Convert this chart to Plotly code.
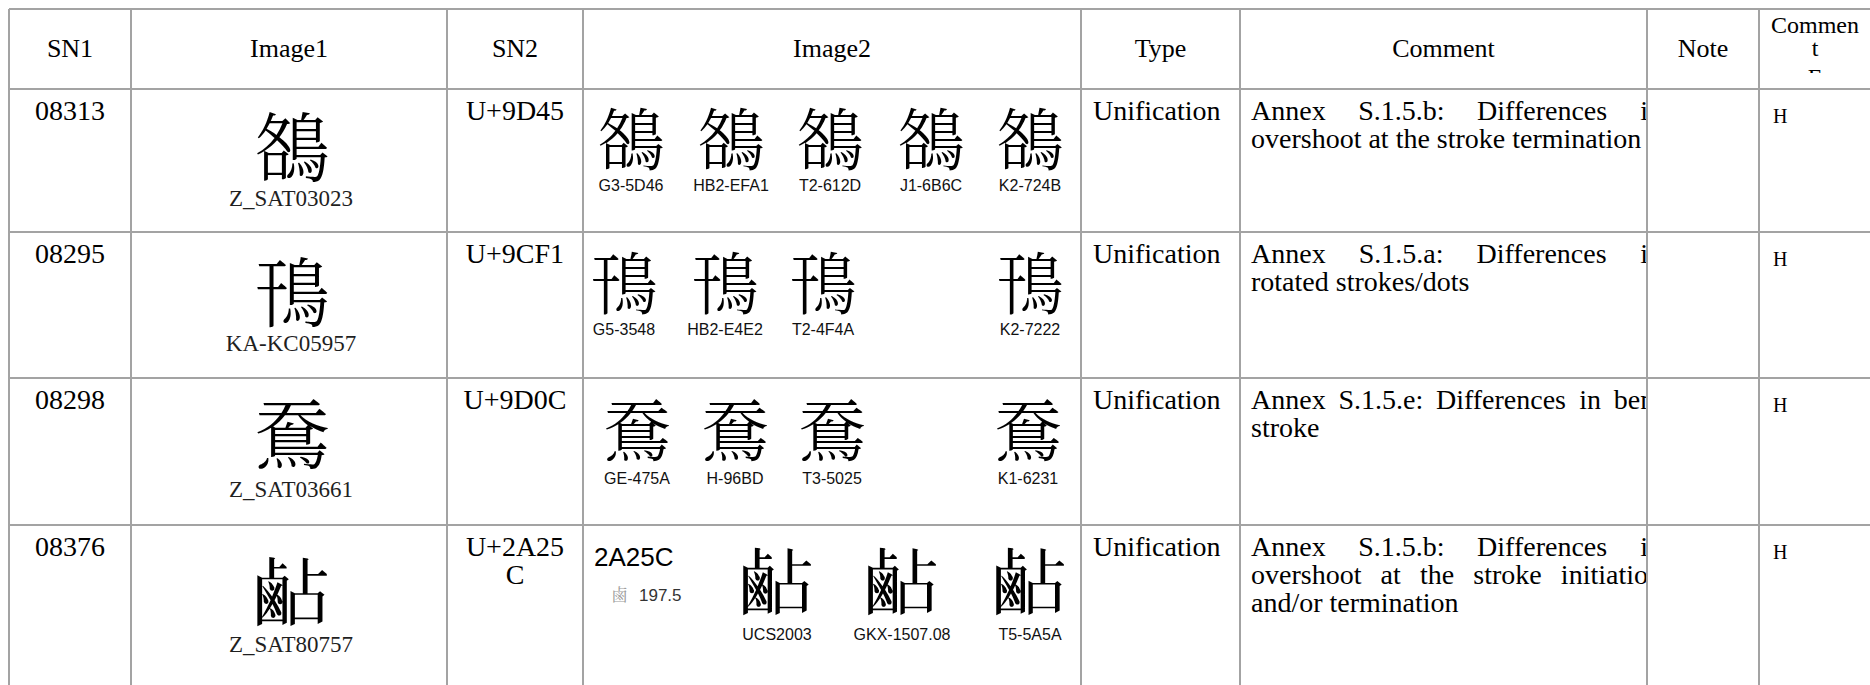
import plotly.graph_objects as go

# ---------------- data ----------------
header_labels = ["SN1", "Image1", "SN2", "Image2", "Type", "Comment", "Note"]
header_last_lines = ["Commen", "t", "E"]

sn1 = ["08313", "08295", "08298", "08376"]
sn2_lines = [["U+9D45"], ["U+9CF1"], ["U+9D0C"], ["U+2A25", "C"]]
image1_glyph = ["鵅", "鳱", "鴌", "𪉜"]
image1_source = ["Z_SAT03023", "KA-KC05957", "Z_SAT03661", "Z_SAT80757"]
image2_glyph = ["鵅", "鳱", "鴌", "𪉜"]
image2_sources = [
    ["G3-5D46", "HB2-EFA1", "T2-612D", "J1-6B6C", "K2-724B"],
    ["G5-3548", "HB2-E4E2", "T2-4F4A", "K2-7222"],
    ["GE-475A", "H-96BD", "T3-5025", "K1-6231"],
    ["UCS2003", "GKX-1507.08", "T5-5A5A"],
]
ucs_code = "2A25C"
ucs_radical = "鹵"
ucs_radical_stroke = "197.5"
types = ["Unification", "Unification", "Unification", "Unification"]
comments = [
    ["Annex S.1.5.b: Differences in", "overshoot at the stroke termination"],
    ["Annex S.1.5.a: Differences in", "rotated strokes/dots"],
    ["Annex S.1.5.e: Differences in bent", "stroke"],
    ["Annex S.1.5.b: Differences in", "overshoot at the stroke initiation", "and/or termination"],
]
notes = ["", "", "", ""]
comment_e = ["H", "H", "H", "H"]

# ---------------- layout (positions / styles) ----------------
W, H = 1870, 685
col_edges = [9, 131, 447, 583, 1081, 1240, 1647, 1759, 1867]
row_edges = [9, 89, 232, 378, 525, 720]
image2_x = [[631, 731, 830, 931, 1030], [624, 725, 823, 1030],
            [637, 735, 832, 1028], [777, 902, 1030]]
img1_glyph_dy = [58, 60, 56, 67]
img1_label_dy = [109, 111, 111, 119]
img2_glyph_dy = [50, 51, 52, 57]
img2_label_dy = [97, 98, 101, 110]
text_dy = 22
line_pitch = 28
comment_right = 1662  # justified paragraph right margin (overflows the cell)

SERIF = "Liberation Serif, Times New Roman, serif"
SANS = "Liberation Sans, Arial, sans-serif"
CJK = "Noto Serif CJK TC, Noto Serif CJK JP, Noto Sans CJK TC, Noto Sans CJK JP, Noto Sans CJK SC, sans-serif"
LINE = "#a3a3a3"
BODY_FS = 28
HEAD_FS = 26

TIMES_W = {" ": 250, "A": 722, "S": 556, "D": 722, "a": 444, "b": 500, "c": 444, "d": 500,
           "e": 444, "f": 333, "g": 500, "h": 500, "i": 278, "k": 500, "l": 278, "m": 778,
           "n": 500, "o": 500, "r": 333, "s": 389, "t": 278, "v": 500, "x": 500, ".": 250,
           ":": 278, "/": 278, "1": 500, "5": 500}


def tw(s, fs):
    return sum(TIMES_W.get(c, 500) for c in s) * fs / 1000.0


fig = go.Figure()


def add_text(xs, ys, texts, size, family, color="#000000", pos="middle center", weight="normal"):
    fig.add_trace(go.Scatter(
        x=xs, y=ys, text=texts, mode="text", textposition=pos,
        textfont=dict(size=size, family=family, color=color, weight=weight),
        hoverinfo="skip", showlegend=False, cliponaxis=True))


def ccenter(i):
    return (col_edges[i] + col_edges[i + 1]) / 2.0


LAT = 0.08   # latin visual-centre correction (fraction of font size)
CJKC = 0.13  # cjk visual-centre correction

# header
hy = 50
add_text([ccenter(i) for i in range(len(header_labels))], [hy] * len(header_labels),
         header_labels, HEAD_FS, SERIF)
last_c = 1815
add_text([last_c] * 3, [25 + 2, 48 + 2, 77 + 2], header_last_lines, 24, SERIF)

for r in range(4):
    top = row_edges[r + 1]
    y1 = top + text_dy + LAT * BODY_FS
    # SN1
    add_text([ccenter(0)], [y1], [sn1[r]], BODY_FS, SERIF)
    # SN2 (wrapped lines)
    n = len(sn2_lines[r])
    add_text([ccenter(2)] * n, [y1 + k * line_pitch for k in range(n)], sn2_lines[r], BODY_FS, SERIF)
    # Image1
    add_text([ccenter(1) + 3], [top + img1_glyph_dy[r] + CJKC * 76], [image1_glyph[r]], 76, CJK, weight=300)
    add_text([ccenter(1) + 2], [top + img1_label_dy[r] + LAT * 23], [image1_source[r]], 23, SERIF, "#1f1f1f")
    # Image2
    gfs = 74 if r == 3 else 68
    xs = image2_x[r]
    add_text(xs, [top + img2_glyph_dy[r] + CJKC * gfs] * len(xs), [image2_glyph[r]] * len(xs), gfs, CJK, weight=300)
    add_text(xs, [top + img2_label_dy[r] + LAT * 16] * len(xs), image2_sources[r], 16, SANS, "#111111")
    if r == 3:
        add_text([594], [top + 32 + LAT * 26], [ucs_code], 26, SANS, "#000000", "middle right")
        add_text([611], [top + 70 + CJKC * 17], [ucs_radical], 17, CJK, "#9a9a9a", "middle right")
        add_text([639], [top + 70 + LAT * 17], [ucs_radical_stroke], 17, SANS, "#333333", "middle right")
    # Type
    add_text([col_edges[4] + 12], [y1], [types[r]], BODY_FS, SERIF, "#000000", "middle right")
    # Comment (justified except last line)
    left = col_edges[5] + 11
    lines = comments[r]
    for k, line in enumerate(lines):
        yk = y1 + k * line_pitch
        if k < len(lines) - 1:
            words = line.split(" ")
            widths = [tw(w, BODY_FS) for w in words]
            gap = (comment_right - left - sum(widths)) / (len(words) - 1)
            wx, x = [], left
            for w in widths:
                wx.append(x)
                x += w + gap
            add_text(wx, [yk] * len(words), words, BODY_FS, SERIF, "#000000", "middle right")
        else:
            add_text([left], [yk], [line], BODY_FS, SERIF, "#000000", "middle right")
    # Comment E
    add_text([col_edges[7] + 14], [top + 27 + LAT * 20], [comment_e[r]], 20, SERIF, "#000000", "middle right")

shapes = []
# clipping masks (white) for overflowing text
shapes.append(dict(type="rect", x0=col_edges[6] + 1, x1=col_edges[6] + 60, y0=row_edges[1] + 1, y1=H,
                   fillcolor="white", line=dict(width=0), layer="above"))
shapes.append(dict(type="rect", x0=col_edges[7] + 1, x1=W, y0=73, y1=row_edges[1] + 12,
                   fillcolor="white", line=dict(width=0), layer="above"))
# grid lines
for x in col_edges[:-1]:
    shapes.append(dict(type="line", x0=x, x1=x, y0=row_edges[0], y1=H, line=dict(color=LINE, width=2), layer="above"))
for y in row_edges[:-1]:
    shapes.append(dict(type="line", x0=col_edges[0], x1=W, y0=y, y1=y, line=dict(color=LINE, width=2), layer="above"))

fig.update_layout(
    width=W, height=H, margin=dict(l=0, r=0, t=0, b=0),
    paper_bgcolor="white", plot_bgcolor="white",
    xaxis=dict(range=[0, W], visible=False, fixedrange=True),
    yaxis=dict(range=[H, 0], visible=False, fixedrange=True),
    shapes=shapes, hovermode=False, showlegend=False,
)

fig.write_html("out.html", config={"displayModeBar": False, "staticPlot": True},
               post_script="document.body.style.margin='0';document.documentElement.style.overflow='hidden';")
